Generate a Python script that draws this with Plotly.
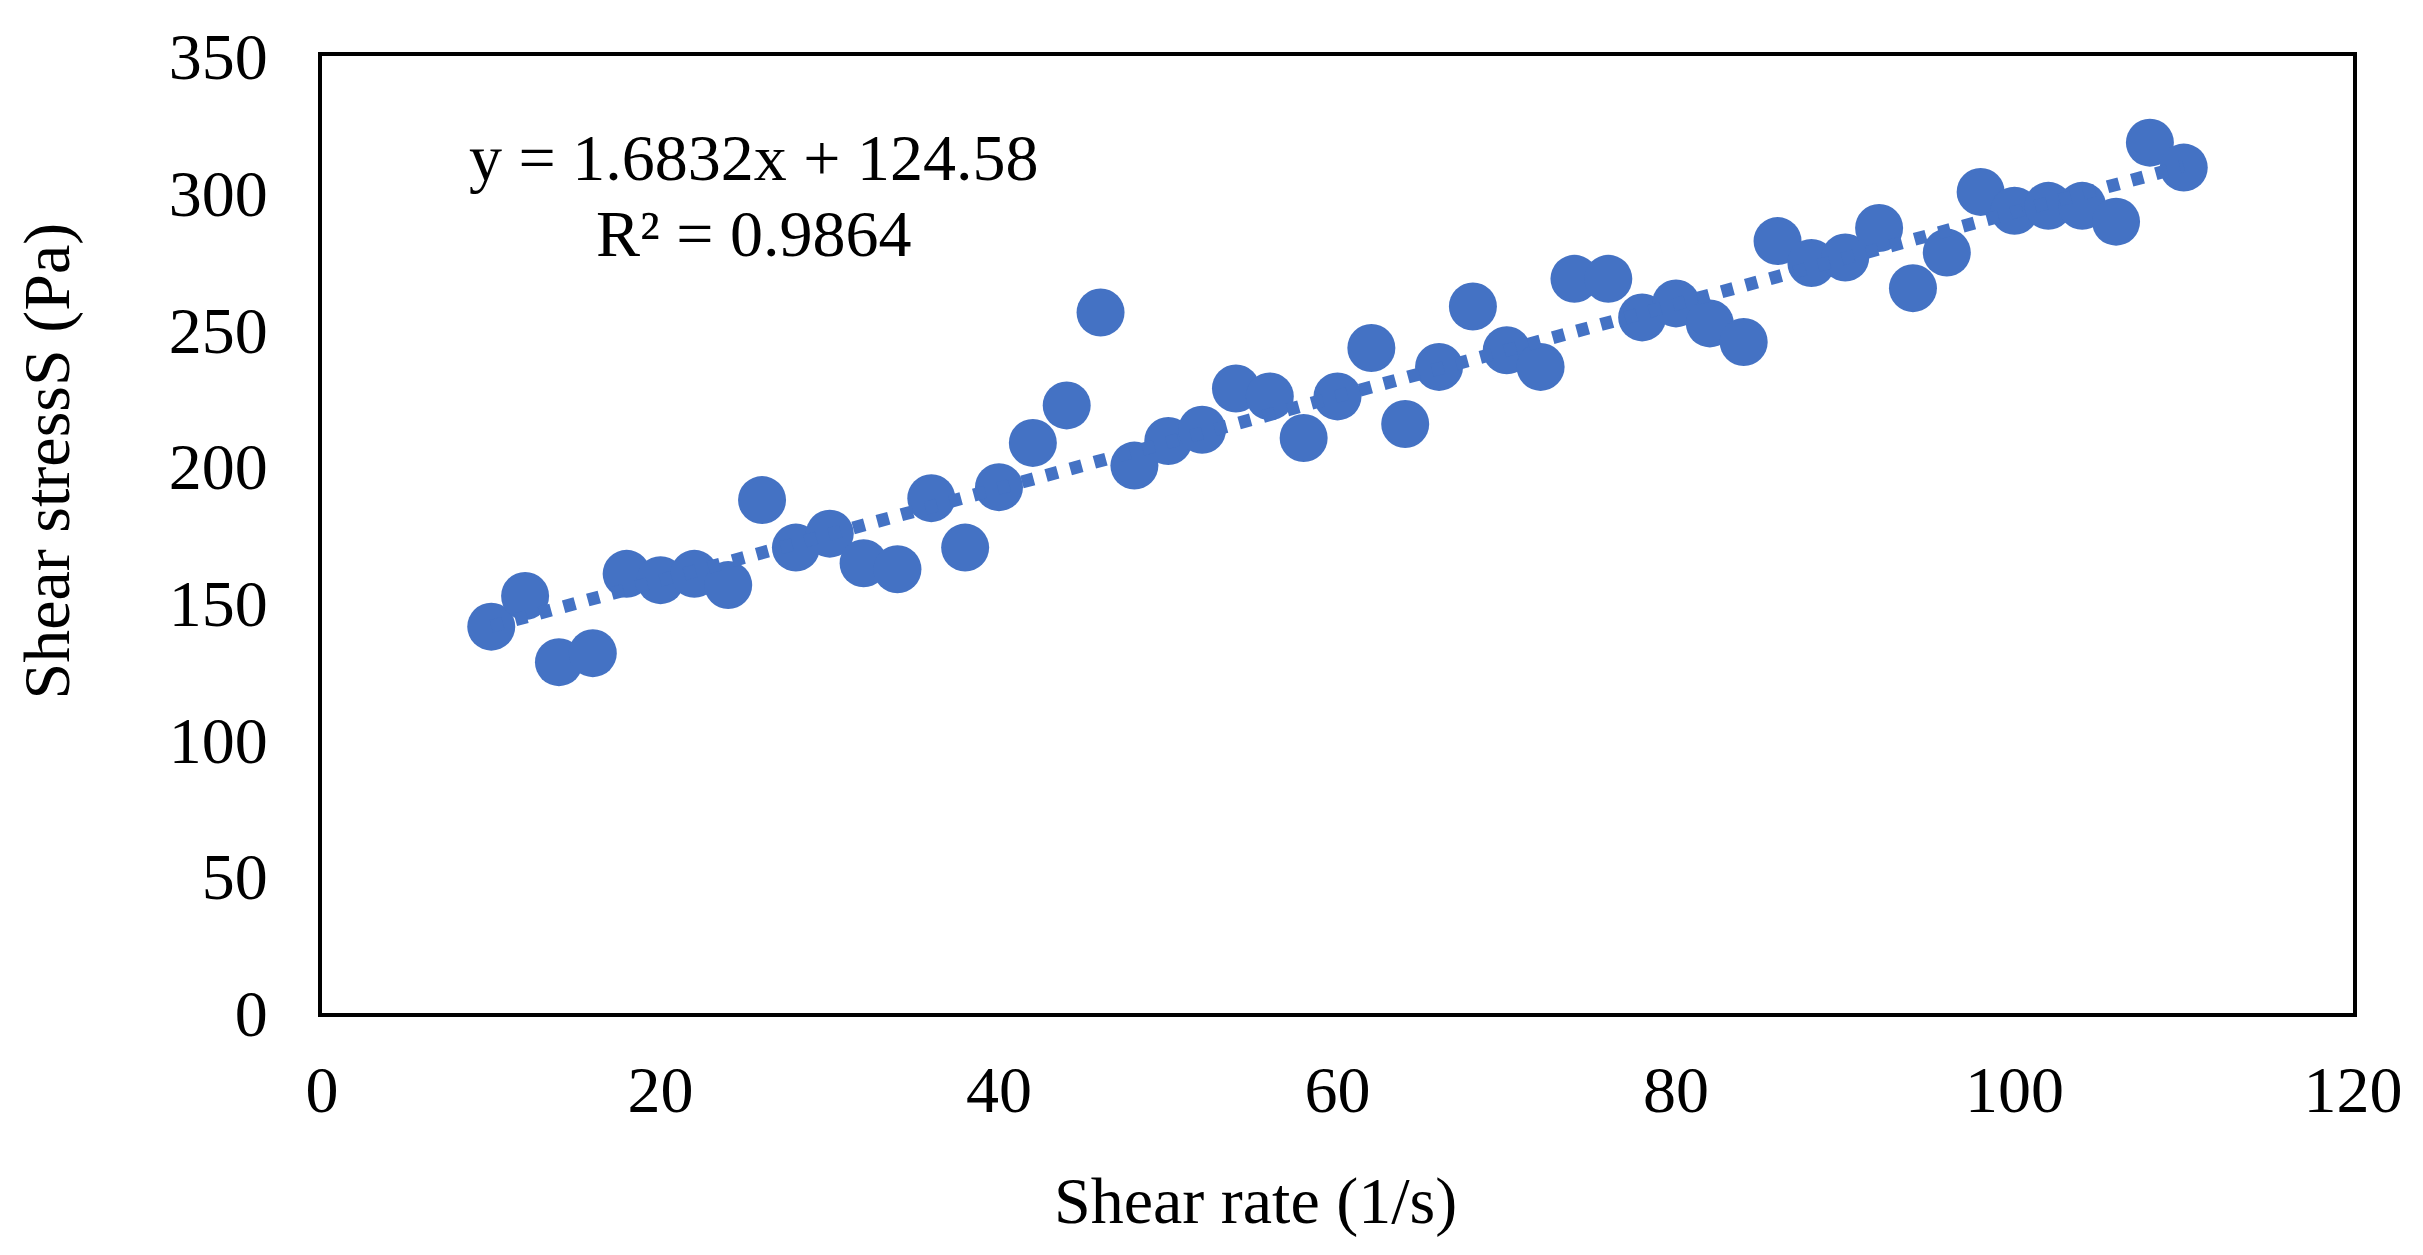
import plotly.graph_objects as go

# Data
shear_rate = [10, 12, 14, 16, 18, 20, 22, 24, 26, 28, 30, 32, 34, 36, 38, 40, 42, 44, 46, 48,
              50, 52, 54, 56, 58, 60, 62, 64, 66, 68, 70, 72, 74, 76, 78, 80, 82, 84, 86, 88,
              90, 92, 94, 96, 98, 100, 102, 104, 106, 108, 110]
shear_stress = [141.3, 152.5, 128.3, 131.6, 160.6, 158.3, 160.6, 156.5, 187.6, 170.2,
                175.3, 164.5, 162.3, 188.3, 170.2, 192.3, 208.5, 222.2, 256.2, 200.2,
                209.2, 213.3, 228.4, 225.5, 210.3, 225.5, 243.2, 215.4, 236.3, 258.4,
                242.4, 236.3, 268.5, 268.5, 254.4, 259.5, 252.2, 245.4, 282.3, 274.3,
                276.3, 287.1, 265.1, 278.1, 300.3, 293.4, 295.2, 295.2, 289.4, 318.3,
                309.2]

slope = 1.6832
intercept = 124.58
r_squared = 0.9864

x_ticks = [0, 20, 40, 60, 80, 100, 120]
y_ticks = [0, 50, 100, 150, 200, 250, 300, 350]

trend_x = [min(shear_rate), max(shear_rate)]
trend_y = [slope * v + intercept for v in trend_x]

BLUE = "#4472C4"
FONT = "Liberation Serif"

# the page has an 8px body margin; the figure is sized to fit inside it
OFF = 8
W, H = 2423 - 2 * OFF, 1255 - 2 * OFF
L, R, T, B = 314, 54, 37, 234
PW, PH = W - L - R, H - T - B
PLOT_BOTTOM = H - B

fig = go.Figure()
fig.add_trace(go.Scatter(
    x=shear_rate, y=shear_stress, mode="markers",
    marker=dict(color=BLUE, size=48, line=dict(width=0)),
    showlegend=False, hoverinfo="x+y",
))
fig.add_trace(go.Scatter(
    x=trend_x, y=trend_y, mode="lines",
    line=dict(color=BLUE, width=13, dash="12px,13px"),
    showlegend=False, hoverinfo="skip",
))

fig.add_annotation(x=25.5, y=313.0, xref="x", yref="y",
                   text=f"y = {slope}x + {intercept}", showarrow=False,
                   font=dict(family=FONT, size=66, color="black"),
                   xanchor="center", yanchor="middle")
fig.add_annotation(x=25.5, y=285.2, xref="x", yref="y",
                   text=f"R² = {r_squared}", showarrow=False,
                   font=dict(family=FONT, size=66, color="black"),
                   xanchor="center", yanchor="middle")

# Axis titles (offset like the original)
fig.add_annotation(x=(1251 - L) / PW, y=-(1195 - PLOT_BOTTOM) / PH, xref="paper", yref="paper",
                   text="Shear rate (1/s)", showarrow=False,
                   font=dict(family=FONT, size=66, color="black"),
                   xanchor="center", yanchor="middle")
fig.add_annotation(x=(38 - L) / PW, y=(PLOT_BOTTOM - 447) / PH, xref="paper", yref="paper",
                   text="Shear stressS (Pa)", showarrow=False, textangle=-90,
                   font=dict(family=FONT, size=66, color="black"),
                   xanchor="center", yanchor="middle")

fig.update_xaxes(
    range=[0, 120], tickvals=x_ticks, ticktext=[str(v) for v in x_ticks],
    showgrid=False, zeroline=False, ticks="", ticklabelstandoff=16,
    ticklabeloverflow="allow",
    showline=True, linecolor="black", linewidth=4, mirror=True,
    tickfont=dict(family=FONT, size=66, color="black"),
)
fig.update_yaxes(
    range=[0, 350], tickvals=y_ticks, ticktext=[str(v) for v in y_ticks],
    showgrid=False, zeroline=False, ticks="", ticklabelstandoff=37,
    ticklabeloverflow="allow",
    showline=True, linecolor="black", linewidth=4, mirror=True,
    tickfont=dict(family=FONT, size=66, color="black"),
)

fig.update_layout(
    width=W, height=H,
    margin=dict(l=L, r=R, t=T, b=B),
    paper_bgcolor="white", plot_bgcolor="white",
    font=dict(family=FONT, color="black"),
)

fig.write_html("out.html")
